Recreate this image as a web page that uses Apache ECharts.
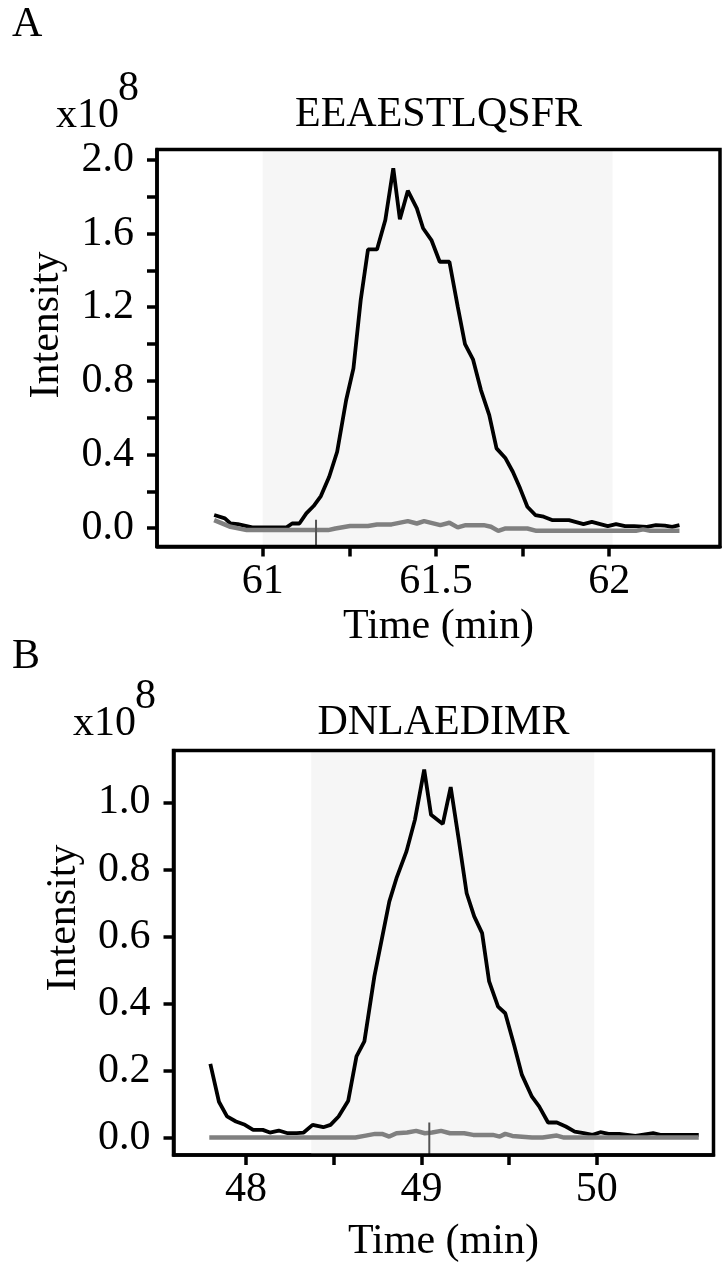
<!DOCTYPE html>
<html>
<head>
<meta charset="utf-8">
<script src="https://cdn.jsdelivr.net/npm/echarts@6/dist/echarts.min.js"></script>
<style>
html,body{margin:0;padding:0;background:#fff;}
#chart{width:722px;height:1267px;}
</style>
</head>
<body>
<div id="chart"></div>
<script>
// ---------- Panel A: EEAESTLQSFR ----------
const titleA = 'EEAESTLQSFR';
const timeA = [60.860,60.891,60.907,60.928,60.970,61.069,61.085,61.106,61.126,61.147,61.168,61.192,61.215,61.241,61.262,61.283,61.304,61.330,61.354,61.377,61.396,61.419,61.445,61.463,61.487,61.511,61.539,61.563,61.584,61.607,61.630,61.654,61.675,61.701,61.722,61.743,61.764,61.787,61.811,61.837,61.884,61.926,61.950,61.996,62.020,62.046,62.072,62.109,62.135,62.161,62.182,62.203];
const intensA = [0.071,0.053,0.025,0.022,0.004,0.004,0.025,0.025,0.080,0.120,0.174,0.279,0.415,0.696,0.868,1.239,1.514,1.514,1.674,1.955,1.678,1.833,1.737,1.629,1.565,1.447,1.447,1.203,1.000,0.917,0.750,0.614,0.433,0.379,0.306,0.216,0.116,0.071,0.062,0.043,0.043,0.022,0.034,0.011,0.022,0.011,0.011,0.007,0.016,0.013,0.007,0.016];
const timeGrayA = [60.860,60.907,60.954,61.189,61.210,61.252,61.304,61.330,61.372,61.419,61.445,61.466,61.513,61.539,61.563,61.586,61.638,61.659,61.680,61.701,61.764,61.790,62.077,62.098,62.119,62.203];
const grayA = [0.043,0.007,-0.011,-0.011,-0.002,0.011,0.011,0.020,0.020,0.038,0.025,0.038,0.016,0.029,0.004,0.016,0.016,0.007,-0.015,-0.002,-0.002,-0.015,-0.015,-0.007,-0.015,-0.015];
const shadeA = [61.0, 62.01];
const markerA = 61.154;
const markerTopA = 0.045;
const xRangeA = [60.695, 62.32];
const yRangeA = [-0.1, 2.057];
const xTicksA = [61, 61.25, 61.5, 61.75, 62];
const xLabelsA = [61, 61.5, 62];
const yTicksA = [0, 0.2, 0.4, 0.6, 0.8, 1.0, 1.2, 1.4, 1.6, 1.8, 2.0];
const yLabelsA = [0, 0.4, 0.8, 1.2, 1.6, 2.0];

// ---------- Panel B: DNLAEDIMR ----------
const titleB = 'DNLAEDIMR';
const timeB = [47.797,47.846,47.892,47.943,47.994,48.041,48.096,48.136,48.187,48.238,48.289,48.329,48.380,48.441,48.482,48.528,48.583,48.630,48.675,48.732,48.817,48.858,48.915,48.963,49.016,49.055,49.122,49.167,49.213,49.258,49.301,49.346,49.386,49.437,49.478,49.528,49.573,49.630,49.671,49.722,49.772,49.823,49.874,49.925,49.976,50.020,50.067,50.128,50.220,50.321,50.362,50.581];
const intensB = [0.220,0.107,0.063,0.048,0.038,0.023,0.023,0.015,0.021,0.013,0.013,0.015,0.038,0.031,0.038,0.063,0.110,0.242,0.287,0.481,0.704,0.774,0.854,0.948,1.098,0.963,0.936,1.046,0.889,0.729,0.660,0.610,0.466,0.391,0.371,0.277,0.187,0.122,0.093,0.045,0.045,0.033,0.018,0.013,0.008,0.016,0.011,0.011,0.005,0.013,0.008,0.008];
const timeGrayB = [47.791,48.624,48.675,48.736,48.776,48.817,48.858,48.919,48.970,49.020,49.061,49.112,49.163,49.244,49.295,49.407,49.447,49.478,49.518,49.630,49.691,49.772,49.813,50.581];
const grayB = [0,0,0.005,0.011,0.011,0.003,0.013,0.015,0.020,0.013,0.015,0.020,0.013,0.013,0.008,0.008,0.003,0.011,0.005,0,0,0.006,0,0];
const shadeB = [48.372, 49.985];
const markerB = 49.045;
const markerTopB = 0.045;
const xRangeB = [47.587, 50.665];
const yRangeB = [-0.052, 1.155];
const xTicksB = [48, 48.5, 49, 49.5, 50];
const xLabelsB = [48, 49, 50];
const yTicksB = [0, 0.2, 0.4, 0.6, 0.8, 1.0];
const yLabelsB = [0, 0.2, 0.4, 0.6, 0.8, 1.0];

const xName = 'Time (min)';
const yName = 'Intensity';
const expBase = 'x10';
const expPow = '8';

// ---------- chart ----------
const FONT = '"Liberation Serif", "Times New Roman", serif';
const FS = 42;
const chart = echarts.init(document.getElementById('chart'), null, {renderer: 'canvas'});

const pairs = (xs, ys) => xs.map((x, i) => [x, ys[i]]);

const grids = [
  {left: 157, top: 149.5, width: 563, height: 397},
  {left: 173.5, top: 750.5, width: 540, height: 404.5}
];

function xAxisFor(idx, range, ticks, labels) {
  return {
    type: 'value', gridIndex: idx, min: range[0], max: range[1],
    splitLine: {show: false},
    axisLine: {show: true, onZero: false, lineStyle: {color: '#000', width: 3.5}},
    axisTick: {show: true, customValues: ticks, length: 10, lineStyle: {color: '#000', width: 3.5}},
    axisLabel: {show: true, customValues: labels, margin: 14, color: '#000',
      fontFamily: FONT, fontSize: FS, formatter: v => String(Number(v))}
  };
}
function yAxisFor(idx, range, ticks, labels) {
  return {
    type: 'value', gridIndex: idx, min: range[0], max: range[1],
    splitLine: {show: false},
    axisLine: {show: true, onZero: false, lineStyle: {color: '#000', width: 3.5}},
    axisTick: {show: true, customValues: ticks, length: 10, lineStyle: {color: '#000', width: 3.5}},
    axisLabel: {show: true, customValues: labels, margin: 23, color: '#000',
      fontFamily: FONT, fontSize: FS, formatter: v => Number(v).toFixed(1)}
  };
}

function panelSeries(idx, t, y, tg, g, shade, marker, markerTop, yMin) {
  return [
    {
      type: 'line', xAxisIndex: idx, yAxisIndex: idx, data: pairs(t, y),
      showSymbol: false, symbol: 'none', z: 3,
      lineStyle: {color: '#000', width: 3.8},
      markArea: {silent: true, itemStyle: {color: '#f6f6f6'}, data: [[{xAxis: shade[0]}, {xAxis: shade[1]}]]}
    },
    {
      type: 'line', xAxisIndex: idx, yAxisIndex: idx, data: pairs(tg, g),
      showSymbol: false, symbol: 'none', z: 4,
      lineStyle: {color: '#808080', width: 4.5}
    },
    {
      type: 'line', xAxisIndex: idx, yAxisIndex: idx,
      data: [[marker, markerTop], [marker, yMin]],
      showSymbol: false, symbol: 'none', z: 5,
      lineStyle: {color: '#555', width: 2}
    }
  ];
}

const txt = (text, x, y, size, align, extra) => Object.assign({
  type: 'text', x: x, y: y, z: 100,
  style: {text: text, fill: '#000', font: size + 'px ' + FONT, textAlign: align || 'left', textVerticalAlign: 'middle'}
}, extra || {});

const option = {
  animation: false,
  backgroundColor: '#fff',
  grid: grids.map(g => Object.assign({show: true, borderWidth: 3.5, borderColor: '#000', backgroundColor: 'transparent', z: 10}, g)),
  xAxis: [
    xAxisFor(0, xRangeA, xTicksA, xLabelsA),
    xAxisFor(1, xRangeB, xTicksB, xLabelsB)
  ],
  yAxis: [
    yAxisFor(0, yRangeA, yTicksA, yLabelsA),
    yAxisFor(1, yRangeB, yTicksB, yLabelsB)
  ],
  series: [].concat(
    panelSeries(0, timeA, intensA, timeGrayA, grayA, shadeA, markerA, markerTopA, yRangeA[0]),
    panelSeries(1, timeB, intensB, timeGrayB, grayB, shadeB, markerB, markerTopB, yRangeB[0])
  ),
  graphic: [
    txt('A', 12, 25, FS, 'left'),
    txt(expBase, 56, 116, FS, 'left'),
    txt(expPow, 118, 89, FS, 'left'),
    txt(titleA, 438.5, 115, FS, 'center'),
    txt(yName, 47, 325, FS, 'center', {rotation: Math.PI / 2}),
    txt(xName, 438.5, 627, FS, 'center'),
    txt('B', 12, 657, FS, 'left'),
    txt(expBase, 73, 724, FS, 'left'),
    txt(expPow, 135, 697, FS, 'left'),
    txt(titleB, 443.4, 723, FS, 'center'),
    txt(yName, 64, 918, FS, 'center', {rotation: Math.PI / 2}),
    txt(xName, 443.4, 1242, FS, 'center')
  ]
};
chart.setOption(option);
</script>
</body>
</html>
